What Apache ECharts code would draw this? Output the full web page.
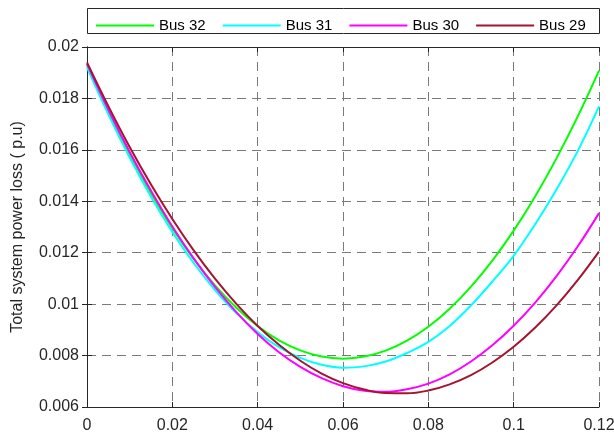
<!DOCTYPE html>
<html>
<head>
<meta charset="utf-8">
<script src="https://cdn.jsdelivr.net/npm/echarts@6/dist/echarts.min.js"></script>
<style>html,body{margin:0;padding:0;background:#fff}#c{width:614px;height:435px}</style>
</head>
<body>
<div id="c"></div>
<script>
const xValues = [0, 0.005, 0.01, 0.015, 0.02, 0.025, 0.03, 0.035, 0.04, 0.045, 0.05, 0.055, 0.06,
                 0.065, 0.07, 0.075, 0.08, 0.085, 0.09, 0.095, 0.10, 0.105, 0.11, 0.115, 0.12];
const bus32 = [0.01929, 0.01747, 0.01581, 0.01430, 0.01295, 0.01176, 0.01073, 0.00986, 0.00915, 0.00859, 0.00820, 0.00796, 0.00788,
               0.00796, 0.00819, 0.00858, 0.00912, 0.00982, 0.01068, 0.01169, 0.01286, 0.01418, 0.01566, 0.01729, 0.01908];
const bus31 = [0.01921, 0.01738, 0.01570, 0.01418, 0.01281, 0.01160, 0.01055, 0.00965, 0.00892, 0.00833, 0.00791, 0.00764, 0.00753,
               0.00758, 0.00777, 0.00810, 0.00853, 0.00915, 0.00995, 0.01088, 0.01188, 0.01310, 0.01445, 0.01595, 0.01769];
const bus30 = [0.01935, 0.01757, 0.01592, 0.01441, 0.01302, 0.01178, 0.01067, 0.00969, 0.00884, 0.00813, 0.00756, 0.00712, 0.00681,
               0.00663, 0.00659, 0.00669, 0.00691, 0.00727, 0.00777, 0.00840, 0.00916, 0.01005, 0.01108, 0.01224, 0.01354];
const bus29 = [0.01940, 0.01770, 0.01611, 0.01465, 0.01331, 0.01209, 0.01099, 0.01001, 0.00915, 0.00842, 0.00780, 0.00730, 0.00693,
               0.00668, 0.00654, 0.00653, 0.00664, 0.00688, 0.00724, 0.00773, 0.00834, 0.00908, 0.00994, 0.01093, 0.01204];
const seriesNames = ['Bus 32', 'Bus 31', 'Bus 30', 'Bus 29'];
const xTickLabels = ['0', '0.02', '0.04', '0.06', '0.08', '0.1', '0.12'];
const yTickLabels = ['0.006', '0.008', '0.01', '0.012', '0.014', '0.016', '0.018', '0.02'];
const yAxisTitle = 'Total system power loss ( p.u)';

const colors = ['#00ff00', '#00ffff', '#ff00ff', '#a2142f'];
const allData = [bus32, bus31, bus30, bus29];
const font = "'Liberation Sans', Arial, sans-serif";

const chart = echarts.init(document.getElementById('c'), null, {renderer: 'canvas'});
const tickStyle = {show: true, inside: true, length: 5, lineStyle: {color: '#262626', width: 1}};
const lineStyleAxis = {show: true, lineStyle: {color: '#262626', width: 1}};
const split = {show: true, lineStyle: {color: '#7a7a7a', type: [9, 6], width: 1}};

const xFmt = v => { const i = Math.round(v / 0.02); return xTickLabels[i] !== undefined ? xTickLabels[i] : ''; };
const yFmt = v => { const i = Math.round((v - 0.006) / 0.002); return yTickLabels[i] !== undefined ? yTickLabels[i] : ''; };

chart.setOption({
  animation: false,
  backgroundColor: '#fff',
  graphic: [{
    type: 'rect', left: 87, top: 8,
    shape: {width: 512, height: 25},
    style: {fill: '#fff', stroke: '#262626', lineWidth: 1},
    z: 0
  }],
  legend: {
    data: seriesNames,
    left: 91, top: 13,
    icon: 'rect',
    itemWidth: 58, itemHeight: 2, itemGap: 17,
    textStyle: {fontSize: 15, color: '#000', fontFamily: font, lineHeight: 14},
    z: 10
  },
  grid: {left: 87, right: 15, top: 47, bottom: 28, containLabel: false, outerBoundsMode: 'none'},
  xAxis: [{
    type: 'value', min: 0, max: 0.12, interval: 0.02,
    axisLine: lineStyleAxis, axisTick: tickStyle, splitLine: split,
    axisLabel: {formatter: xFmt, fontSize: 16, color: '#262626', fontFamily: font, margin: 11}
  }, {
    type: 'value', position: 'top', min: 0, max: 0.12, interval: 0.02,
    axisLine: lineStyleAxis, axisTick: tickStyle, splitLine: {show: false},
    axisLabel: {show: false}
  }],
  yAxis: [{
    type: 'value', min: 0.006, max: 0.02, interval: 0.002,
    name: yAxisTitle, nameLocation: 'middle', nameGap: 61,
    nameTextStyle: {fontSize: 16, color: '#262626', fontFamily: font},
    axisLine: lineStyleAxis, axisTick: tickStyle, splitLine: split,
    axisLabel: {formatter: yFmt, fontSize: 16, color: '#262626', fontFamily: font, margin: 8}
  }, {
    type: 'value', position: 'right', min: 0.006, max: 0.02, interval: 0.002,
    axisLine: lineStyleAxis, axisTick: tickStyle, splitLine: {show: false},
    axisLabel: {show: false}
  }],
  series: seriesNames.map((n, k) => ({
    name: n, type: 'line', smooth: 0.4, symbol: 'none',
    xAxisIndex: 0, yAxisIndex: 0,
    lineStyle: {color: colors[k], width: 2},
    itemStyle: {color: colors[k]},
    data: xValues.map((x, i) => [x, allData[k][i]]),
    z: 5 + k
  }))
});
</script>
</body>
</html>
